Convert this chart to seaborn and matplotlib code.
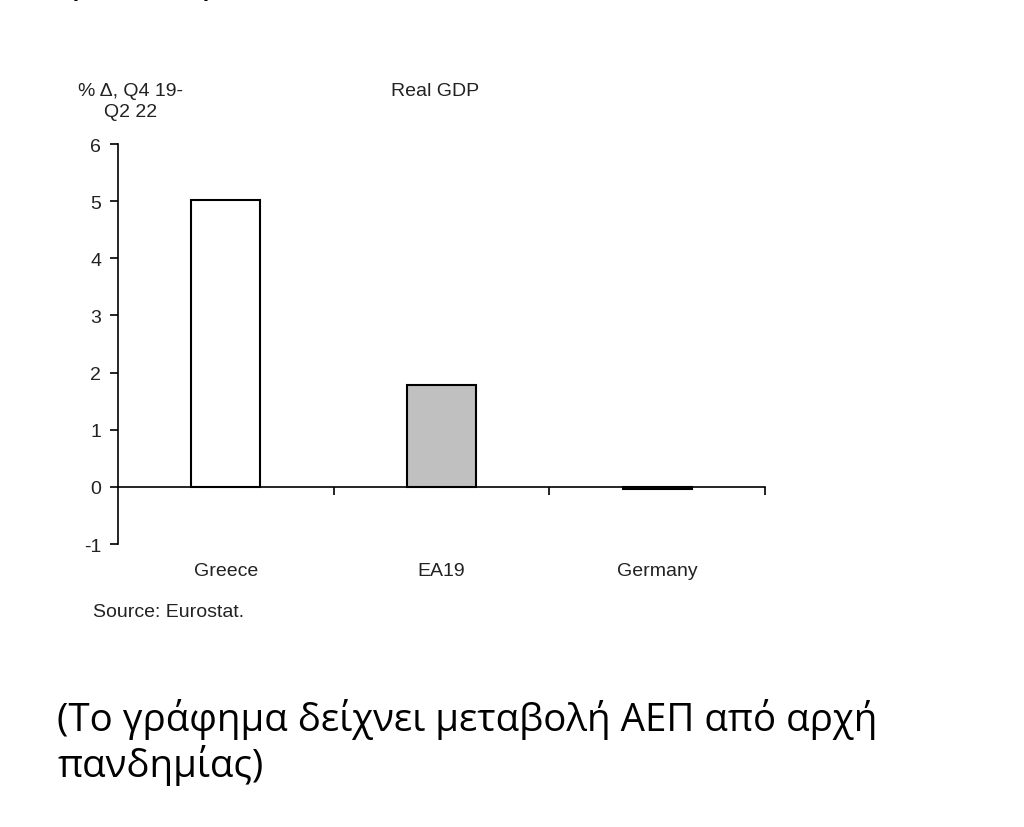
import matplotlib
matplotlib.use("Agg")
import matplotlib.pyplot as plt
import seaborn as sns
import pandas as pd

countries = ["Greece", "EA19", "Germany"]
gdp_change = [5.02, 1.78, -0.04]
bar_colors = ["white", "#c0c0c0", "white"]
y_ticks = [-1, 0, 1, 2, 3, 4, 5, 6]

sns.set_style("white")
plt.rcParams["font.family"] = ["Liberation Sans", "DejaVu Sans"]
plt.rcParams["axes.unicode_minus"] = False

df = pd.DataFrame({"country": countries, "gdp": gdp_change})

fig = plt.figure(figsize=(10.24, 8.28), dpi=100)
ax = fig.add_axes([118 / 1024, 1 - 545 / 828, 647 / 1024, 400 / 828])

sns.barplot(data=df, x="country", y="gdp", hue="country", palette=bar_colors,
            width=0.32, edgecolor="black", linewidth=1.5, legend=False, ax=ax)

ax.set_xlim(-0.5, 2.5)
ax.set_ylim(-1, 6)
ax.set_xlabel("")
ax.set_ylabel("")

for side in ["top", "right"]:
    ax.spines[side].set_visible(False)
ax.spines["bottom"].set_position(("data", 0))
ax.spines["left"].set_color("black")
ax.spines["bottom"].set_color("black")
ax.spines["left"].set_linewidth(1.2)
ax.spines["bottom"].set_linewidth(1.2)

ax.set_yticks(y_ticks)
ax.tick_params(axis="y", direction="out", length=6, width=1.2, color="black",
               left=True, labelsize=14, pad=6, labelcolor="#222222")

ax.set_xticks([0.5, 1.5, 2.5])
ax.set_xticklabels([])
ax.tick_params(axis="x", which="major", direction="out", length=6, width=1.2,
               color="black", bottom=True)
ax.set_xticks([0, 1, 2], minor=True)
ax.set_xticklabels(countries, minor=True)
ax.tick_params(axis="x", which="minor", length=0, labelsize=14, pad=54,
               labelcolor="#222222")

fig.text(131 / 1024, 1 - 83 / 828, "% Δ, Q4 19-\nQ2 22", ha="center", va="top",
         fontsize=14, color="#222222", linespacing=1.3)
fig.text(435 / 1024, 1 - 83 / 828, "Real GDP", ha="center", va="top",
         fontsize=14, color="#222222")
fig.text(93 / 1024, 1 - 604 / 828, "Source: Eurostat.", ha="left", va="top",
         fontsize=14, color="#222222")

note = "(Το γράφημα δείχνει μεταβολή ΑΕΠ από αρχή\nπανδημίας)"
fig.text(57 / 1024, 1 - 777 / 828, note, ha="left", va="baseline",
         fontsize=27.7, family=["Open Sans", "DejaVu Sans"], color="black",
         linespacing=1.15)

# descenders of a text line cut off at the top edge
for xp in [82, 212]:
    fig.text(xp / 1024, 1 + 8 / 828, "p", ha="center", va="baseline",
             fontsize=28, family=["Open Sans", "DejaVu Sans"], color="black")

fig.savefig("out.png", dpi=100)
